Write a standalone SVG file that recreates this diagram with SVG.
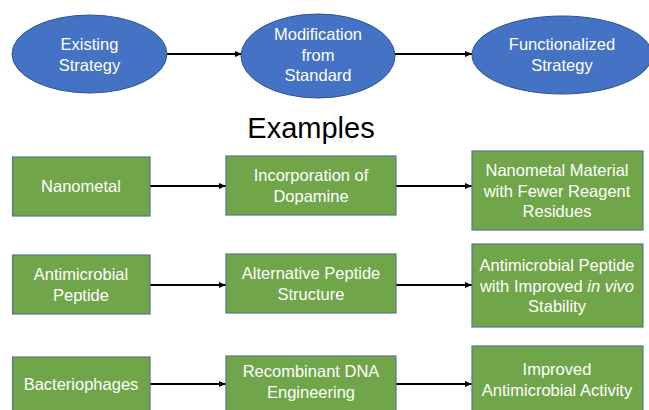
<svg xmlns="http://www.w3.org/2000/svg" width="649" height="410" viewBox="0 0 649 410">
<style>
.ell{fill:#4472C4;stroke:#2F528F;stroke-width:1}
.box{fill:#71A549;stroke:#55788A;stroke-width:1.2}
.t{font-family:"Liberation Sans",Arial,sans-serif;font-size:16.5px;fill:#FFFFFF;text-anchor:middle}
.bt{font-family:"Liberation Sans",Arial,sans-serif;font-size:16.5px;fill:#FFFFFF;text-anchor:middle}
.c{stroke:#000;stroke-width:2.2;fill:none;marker-end:url(#ah)}
</style>
<defs>
<marker id="ah" markerWidth="8" markerHeight="8" refX="7" refY="4" orient="auto" markerUnits="userSpaceOnUse">
<path d="M0,1 L7,4 L0,7 Z" fill="#000"/>
</marker>
</defs>
<rect width="649" height="410" fill="#FFFFFF"/>
<g id="connectors">
<line class="c" x1="167" y1="54" x2="242" y2="54"/>
<line class="c" x1="395" y1="54" x2="472" y2="54"/>
<line class="c" x1="150" y1="186" x2="226" y2="186"/>
<line class="c" x1="396" y1="186" x2="472" y2="186"/>
<line class="c" x1="150" y1="285" x2="226" y2="285"/>
<line class="c" x1="396" y1="285" x2="472" y2="285"/>
<line class="c" x1="150" y1="384" x2="226" y2="384"/>
<line class="c" x1="396" y1="384" x2="472" y2="384"/>
</g>
<g id="existing">
<ellipse class="ell" cx="89.5" cy="54" rx="77.5" ry="39"/>
<text class="t" x="89.5" y="50">Existing</text>
<text class="t" x="89.5" y="71">Strategy</text>
</g>
<g id="modification">
<ellipse class="ell" cx="318" cy="56" rx="77" ry="42"/>
<text class="t" x="318" y="40">Modification</text>
<text class="t" x="318" y="60.5">from</text>
<text class="t" x="318" y="81">Standard</text>
</g>
<g id="functionalized">
<ellipse class="ell" cx="562" cy="55" rx="90" ry="39"/>
<text class="t" x="562" y="50">Functionalized</text>
<text class="t" x="562" y="71">Strategy</text>
</g>
<g id="title">
<text x="311" y="138" font-family="Liberation Sans,Arial,sans-serif" font-size="29" fill="#000" text-anchor="middle">Examples</text>
</g>
<g id="nanometal">
<rect class="box" x="12.5" y="157" width="137.5" height="59"/>
<text class="bt" x="81" y="192">Nanometal</text>
</g>
<g id="dopamine">
<rect class="box" x="226" y="156" width="170" height="59"/>
<text class="bt" x="311" y="181">Incorporation of</text>
<text class="bt" x="311" y="202">Dopamine</text>
</g>
<g id="nanometal-material">
<rect class="box" x="472" y="151" width="171" height="79"/>
<text class="bt" x="557" y="176">Nanometal Material</text>
<text class="bt" x="557" y="197">with Fewer Reagent</text>
<text class="bt" x="557" y="217">Residues</text>
</g>
<g id="amp">
<rect class="box" x="12.5" y="255" width="137.5" height="59"/>
<text class="bt" x="81" y="280">Antimicrobial</text>
<text class="bt" x="81" y="301">Peptide</text>
</g>
<g id="alt-structure">
<rect class="box" x="226" y="254" width="170" height="59"/>
<text class="bt" x="311" y="279">Alternative Peptide</text>
<text class="bt" x="311" y="300">Structure</text>
</g>
<g id="amp-stability">
<rect class="box" x="472" y="244" width="171" height="83"/>
<text class="bt" x="557" y="271">Antimicrobial Peptide</text>
<text class="bt" x="557" y="292">with Improved <tspan font-style="italic">in vivo</tspan></text>
<text class="bt" x="557" y="312">Stability</text>
</g>
<g id="bacteriophages">
<rect class="box" x="12.5" y="357" width="137.5" height="70"/>
<text class="bt" x="81" y="390">Bacteriophages</text>
</g>
<g id="recombinant">
<rect class="box" x="226" y="356" width="170" height="70"/>
<text class="bt" x="311" y="377">Recombinant DNA</text>
<text class="bt" x="311" y="398">Engineering</text>
</g>
<g id="improved">
<rect class="box" x="472" y="346" width="171" height="80"/>
<text class="bt" x="557" y="375">Improved</text>
<text class="bt" x="557" y="396">Antimicrobial Activity</text>
</g>
</svg>
